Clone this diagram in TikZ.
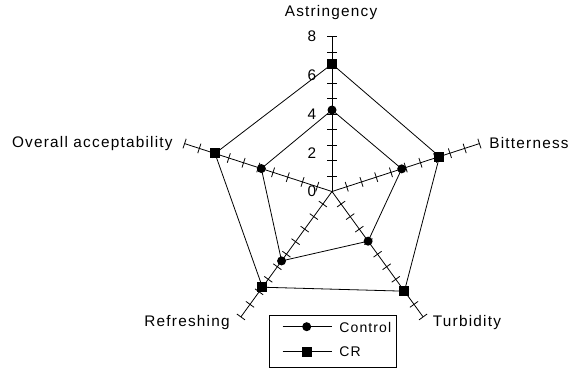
\documentclass[tikz,border=0pt]{standalone}
\usepackage{fontspec}
\setmainfont{Liberation Sans}
\newfontfamily\chartfont[LetterSpace=8]{Liberation Sans}
\begin{document}
\begin{tikzpicture}[x=0.75pt,y=0.75pt,yscale=-1,xscale=1,line width=0.6pt,
  axislabel/.style={inner sep=0.75pt,font=\chartfont\fontsize{11.5}{13}\selectfont},
  legendlabel/.style={inner sep=0.75pt,font=\chartfont\fontsize{10.5}{12}\selectfont},
  ctlmark/.style={circle,fill=black,inner sep=0pt,minimum size=6.75pt},
  crmark/.style={rectangle,fill=black,inner sep=0pt,minimum size=7.5pt}]
\useasboundingbox (0,0) rectangle (568,369);

%Axes with ticks
\foreach \ang in {-90,-18,54,126,198}{
\begin{scope}[shift={(332,191.5)},rotate=\ang]
\draw (0,0) -- (155,0);
\foreach \k in {1,...,10} \draw (\k*15.5,-5) -- (\k*15.5,5);
\end{scope}}

%Data points
\begin{scope}[shift={(332,191.5)}]
\coordinate (ctl-ast) at (-90:81.5);
\coordinate (ctl-bit) at (-18:73.3);
\coordinate (ctl-tur) at (54:61.4);
\coordinate (ctl-ref) at (126:85.8);
\coordinate (ctl-ove) at (198:74.3);
\coordinate (cr-ast) at (-90:127.5);
\coordinate (cr-bit) at (-18:113);
\coordinate (cr-tur) at (54:123.2);
\coordinate (cr-ref) at (126:118.3);
\coordinate (cr-ove) at (198:123);
\end{scope}

%Straight Lines
\draw (ctl-ast) -- (ctl-bit) -- (ctl-tur) -- (ctl-ref) -- (ctl-ove) -- cycle;
%Straight Lines
\draw (cr-ast) -- (cr-bit) -- (cr-tur) -- (cr-ref) -- (cr-ove) -- cycle;

%Markers
\foreach \p in {ast,bit,tur,ref,ove}{
\node[ctlmark] (ctl-\p-mk) at (ctl-\p) {};
\node[crmark] (cr-\p-mk) at (cr-\p) {};}

% Text Node
\foreach \v in {0,2,4,6,8}
\node[axislabel] (num\v) at (312,{191.5-19.4*\v}) {\v};

% Text Node
\node[axislabel] (astringency) at (331,13) {Astringency};
% Text Node
\node[axislabel,anchor=east] (overall) at (174,144) {Overall acceptability};
% Text Node
\node[axislabel,anchor=west] (bitterness) at (488,143.5) {Bitterness};
% Text Node
\node[axislabel,anchor=east] (refreshing) at (231,323) {Refreshing};
% Text Node
\node[axislabel,anchor=west] (turbidity) at (431.5,323) {Turbidity};

%Legend
\node[draw,inner sep=0pt,minimum width=95.5pt,minimum height=39.2pt] (legend) at (333,341.2) {};
\coordinate (lg-ctl-a) at (282.7,326.7);
\coordinate (lg-ctl-b) at (331.7,326.7);
\coordinate (lg-cr-a) at (282.7,351.7);
\coordinate (lg-cr-b) at (331.7,351.7);
\draw (lg-ctl-a) -- (lg-ctl-b);
\draw (lg-cr-a) -- (lg-cr-b);
\node[ctlmark] (lg-ctl-mk) at (306.7,326.7) {};
\node[crmark] (lg-cr-mk) at (306.7,351.7) {};
% Text Node
\node[legendlabel,anchor=west] (lg-ctl-txt) at (338,327) {Control};
% Text Node
\node[legendlabel,anchor=west] (lg-cr-txt) at (338,352) {CR};

\end{tikzpicture}
\end{document}
